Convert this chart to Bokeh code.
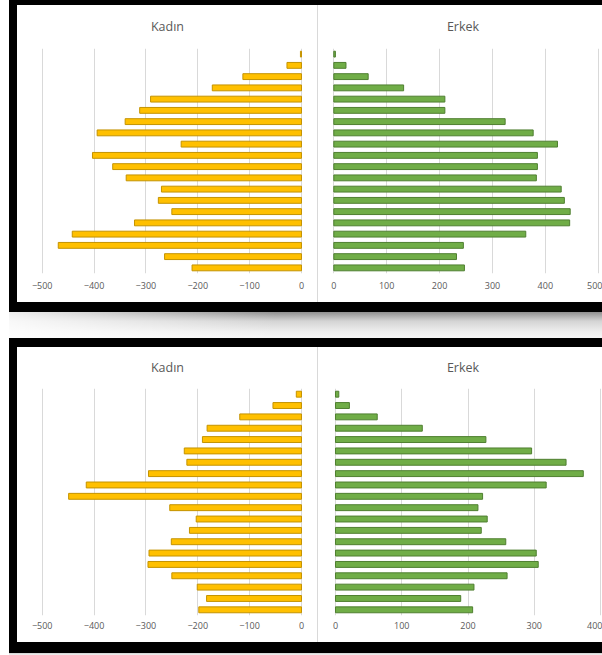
from bokeh.plotting import figure
from bokeh.models import ColumnDataSource, FactorRange, Range1d, FixedTicker, Div, Title
from bokeh.layouts import row, column
from bokeh.embed import file_html
from bokeh.resources import INLINE

# Age groups, listed from the top bar to the bottom bar
groups = ["95+", "90-94", "85-89", "80-84", "75-79", "70-74", "65-69", "60-64",
          "55-59", "50-54", "45-49", "40-44", "35-39", "30-34", "25-29",
          "20-24", "15-19", "10-14", "5-9", "0-4"]

kadin_top = [2, 28, 113, 172, 291, 312, 340, 394, 232, 403, 364, 338,
             270, 276, 250, 322, 442, 469, 264, 211]
erkek_top = [3, 23, 65, 132, 210, 210, 324, 377, 423, 385, 385, 383,
             430, 436, 447, 446, 363, 245, 232, 247]
kadin_bottom = [10, 55, 119, 182, 191, 226, 221, 295, 415, 449, 254, 203,
                216, 251, 294, 296, 250, 201, 183, 198]
erkek_bottom = [5, 21, 63, 131, 227, 296, 348, 374, 318, 222, 215, 229,
                220, 257, 303, 306, 259, 209, 189, 207]

kadin_ticks = [-500, -400, -300, -200, -100, 0]
erkek_ticks_top = [0, 100, 200, 300, 400, 500]
erkek_ticks_bottom = [0, 100, 200, 300, 400]

YELLOW, YELLOW_EDGE = "#FFC000", "#C49300"
GREEN, GREEN_EDGE = "#70AD47", "#4F7F30"
GRID = "#D9D9D9"
TEXT = "#595959"
FONT = "Open Sans"


def make_fig(title, values, ticks, xr, width, height, top, bottom, left, right,
             negative, fill, edge, title_standoff, label_standoff):
    factors = list(reversed(groups))
    p = figure(width=width, height=height, output_backend="svg", toolbar_location=None,
               y_range=FactorRange(factors=factors), x_range=Range1d(*xr),
               y_axis_location=None, min_border_top=top, min_border_bottom=bottom,
               min_border_left=left, min_border_right=right)
    p.title = Title(text=title, align="center", vertical_align="top", text_font=FONT,
                    text_font_size="12.5px", text_font_style="normal", text_color=TEXT,
                    standoff=title_standoff)
    if negative:
        src = ColumnDataSource(dict(y=groups, left=[-v for v in values], right=[0] * len(values)))
    else:
        src = ColumnDataSource(dict(y=groups, left=[0] * len(values), right=values))
    p.hbar(y="y", left="left", right="right", height=0.52, source=src,
           fill_color=fill, line_color=edge, line_width=1)
    p.xaxis.ticker = FixedTicker(ticks=ticks)
    p.xgrid.ticker = FixedTicker(ticks=ticks)
    p.xgrid.grid_line_color = GRID
    p.xgrid.level = "underlay"
    p.ygrid.grid_line_color = None
    p.xaxis.axis_line_color = None
    p.xaxis.major_tick_line_color = None
    p.xaxis.minor_tick_line_color = None
    p.xaxis.major_label_text_font = FONT
    p.xaxis.major_label_text_font_size = "9px"
    p.xaxis.major_label_text_color = TEXT
    p.xaxis.major_label_standoff = label_standoff
    p.outline_line_color = None
    p.background_fill_color = "white"
    p.border_fill_color = "white"
    return p


def block(w, h, color):
    return Div(text="", width=w, height=h, margin=0, styles={"background-color": color})


# top panel
k1 = make_fig("Kadın", kadin_top, kadin_ticks, (-528.3, 11.6), 300, 297, 43, 29, 10, 10,
              True, YELLOW, YELLOW_EDGE, 24, 2)
e1 = make_fig("Erkek", erkek_top, erkek_ticks_top, (-19.5, 508.1), 284, 297, 43, 29, 5, 0,
              False, GREEN, GREEN_EDGE, 24, 2)
# bottom panel
k2 = make_fig("Kadın", kadin_bottom, kadin_ticks, (-528.3, 11.6), 300, 295, 41, 27, 10, 10,
              True, YELLOW, YELLOW_EDGE, 22, 0)
e2 = make_fig("Erkek", erkek_bottom, erkek_ticks_bottom, (-18.1, 403.0), 284, 295, 41, 27, 5, 0,
              False, GREEN, GREEN_EDGE, 22, 0)

panel1 = row(block(8, 312, "black"),
             column(block(585, 5, "black"),
                    row(k1, block(1, 297, GRID), e1, spacing=0),
                    block(585, 10, "black"), spacing=0),
             spacing=0)
shadow = Div(text="", width=593, height=26, margin=0,
             styles={"background": "linear-gradient(to right, rgba(255,255,255,0.85), rgba(255,255,255,0) 45%), "
                                   "linear-gradient(#8f8f8f, #d4d4d4 35%, #eeeeee 75%, #f6f6f6)"})
panel2 = row(block(8, 315, "black"),
             column(block(585, 9, "black"),
                    row(k2, block(1, 295, GRID), e2, spacing=0),
                    block(585, 11, "black"), spacing=0),
             spacing=0)
bottom_shadow = Div(text="", width=593, height=2, margin=0,
                    styles={"background": "linear-gradient(#cfcfcf, #f4f4f4)"})

layout = row(block(9, 655, "white"),
             column(panel1, shadow, panel2, bottom_shadow, spacing=0),
             spacing=0)

open("out.html", "w").write(file_html(layout, INLINE))
